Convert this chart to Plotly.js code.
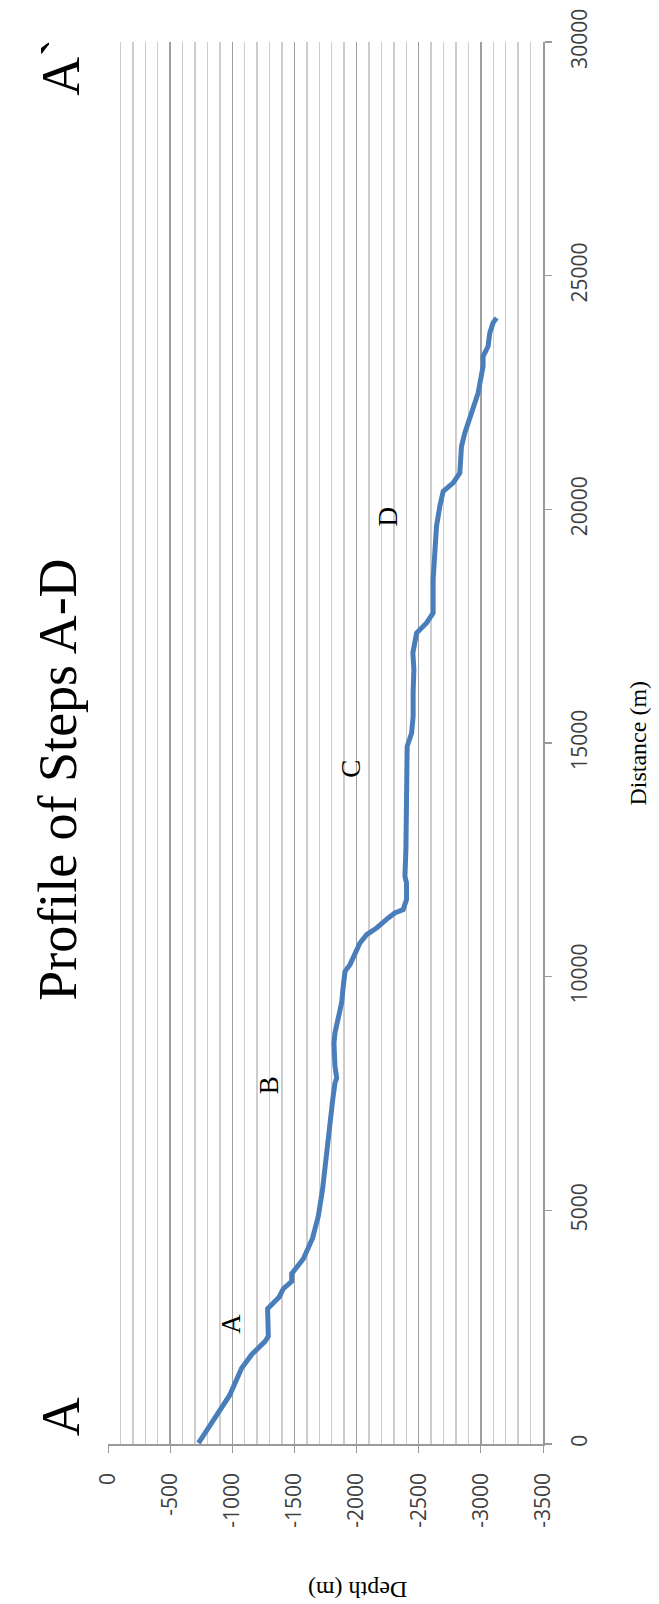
<!DOCTYPE html>
<html>
<head>
<meta charset="utf-8">
<script src="https://cdn.plot.ly/plotly-3.0.1.min.js"></script>
<style>
html,body{margin:0;padding:0;background:#fff;}
#chart{width:659px;height:1604px;}
</style>
</head>
<body>
<div id="chart"></div>
<script>
// Distance along profile (m)
const distance = [20, 520, 1044, 1622, 1911, 2196, 2303, 2895, 3142, 3323, 3480, 3644, 3965, 4404, 4871, 5442, 5941, 6369, 6655, 7154, 7368, 7725, 7832, 8081, 8581, 8795, 9037, 9444, 9793, 10114, 10257, 10507, 10721, 10899, 11042, 11256, 11363, 11434, 11648, 12005, 12147, 12718, 13431, 14145, 14573, 14929, 15215, 15571, 16071, 16570, 16927, 17355, 17569, 17783, 18496, 19209, 19637, 20065, 20386, 20565, 20779, 21349, 21635, 22063, 22491, 23061, 23275, 23489, 23775, 23989, 24096];
// Depth (m)
const depth = [-728, -848, -979, -1075, -1155, -1264, -1290, -1284, -1376, -1411, -1478, -1478, -1572, -1646, -1692, -1726, -1746, -1760, -1773, -1800, -1808, -1826, -1840, -1826, -1818, -1826, -1850, -1880, -1893, -1907, -1947, -1987, -2027, -2081, -2161, -2255, -2308, -2375, -2402, -2402, -2389, -2397, -2402, -2402, -2402, -2407, -2443, -2455, -2455, -2461, -2453, -2483, -2563, -2616, -2616, -2630, -2643, -2670, -2697, -2777, -2831, -2844, -2871, -2925, -2978, -3018, -3018, -3058, -3072, -3098, -3126];

// Step labels
const stepLabels = ['A', 'B', 'C', 'D'];
const stepDepth = [-990, -1292, -1955, -2253];
const stepDistance = [2574, 7668, 14450, 19845];

// Tick labels
const depthTicks = [0, -500, -1000, -1500, -2000, -2500, -3000, -3500];
const depthTickText = ['0', '-500', '-1000', '-1500', '-2000', '-2500', '-3000', '-3500'];
const distTicks = [0, 5000, 10000, 15000, 20000, 25000, 30000];
const distTickText = ['0', '5000', '10000', '15000', '20000', '25000', '30000'];

const titleText = 'Profile of Steps A-D';
const startLabel = 'A';
const endLabel = 'A`';
const xTitle = 'Distance (m)';
const yTitle = 'Depth (m)';

const serif = 'Liberation Serif, Times New Roman, serif';
const sans = 'Open Sans, sans-serif';

const trace = {
  x: depth,
  y: distance,
  type: 'scatter',
  mode: 'lines',
  line: {color: '#4A7EBB', width: 5},
  hoverinfo: 'skip'
};

const annotations = stepLabels.map((t, i) => ({
  text: t, x: stepDepth[i], y: stepDistance[i], xref: 'x', yref: 'y',
  showarrow: false, textangle: -90, xanchor: 'center', yanchor: 'middle',
  font: {family: serif, size: 27, color: '#000'}
}));

annotations.push(
  {text: titleText, xref: 'paper', yref: 'paper', x: -0.114, y: 0.474, showarrow: false,
   textangle: -90, xanchor: 'center', yanchor: 'middle', font: {family: serif, size: 54, color: '#000'}},
  {text: startLabel, xref: 'paper', yref: 'paper', x: -0.109, y: 0.0195, showarrow: false,
   textangle: -90, xanchor: 'center', yanchor: 'middle', font: {family: serif, size: 54, color: '#000'}},
  {text: endLabel, xref: 'paper', yref: 'paper', x: -0.107, y: 0.982, showarrow: false,
   textangle: -90, xanchor: 'center', yanchor: 'middle', font: {family: serif, size: 54, color: '#000'}},
  {text: xTitle, xref: 'paper', yref: 'paper', x: 1.2174, y: 0.5, showarrow: false,
   textangle: -90, xanchor: 'center', yanchor: 'middle', font: {family: serif, size: 24, color: '#000'}},
  {text: yTitle, xref: 'paper', yref: 'paper', x: 0.575, y: -0.1046, showarrow: false,
   textangle: 180, xanchor: 'center', yanchor: 'middle', font: {family: serif, size: 24, color: '#000'}}
);

const layout = {
  width: 659, height: 1604,
  margin: {l: 108, r: 116, t: 42, b: 160, pad: 0},
  paper_bgcolor: '#fff', plot_bgcolor: '#fff',
  showlegend: false,
  xaxis: {
    range: [0, -3500], tickvals: depthTicks, ticktext: depthTickText,
    tickangle: -90, ticks: 'outside', ticklen: 7, tickcolor: '#9a9a9a', tickwidth: 1,
    showline: true, linecolor: '#9a9a9a', linewidth: 1.5,
    showgrid: true, gridcolor: '#9f9f9f', gridwidth: 1.3,
    minor: {dtick: 100, showgrid: true, gridcolor: '#cdcdcd', gridwidth: 1.3, ticks: ''},
    zeroline: false, ticklabelstandoff: 12,
    tickfont: {family: sans, size: 21, color: '#404040'}
  },
  yaxis: {
    range: [0, 30000], side: 'right', tickvals: distTicks, ticktext: distTickText,
    tickangle: -90, ticks: 'outside', ticklen: 7, tickcolor: '#9a9a9a', tickwidth: 1.5,
    showline: true, linecolor: '#9a9a9a', linewidth: 1.5,
    showgrid: false, zeroline: false, ticklabelstandoff: 10,
    tickfont: {family: sans, size: 21, color: '#404040'}
  },
  annotations: annotations
};

Plotly.newPlot('chart', [trace], layout, {staticPlot: true, displayModeBar: false});
</script>
</body>
</html>
